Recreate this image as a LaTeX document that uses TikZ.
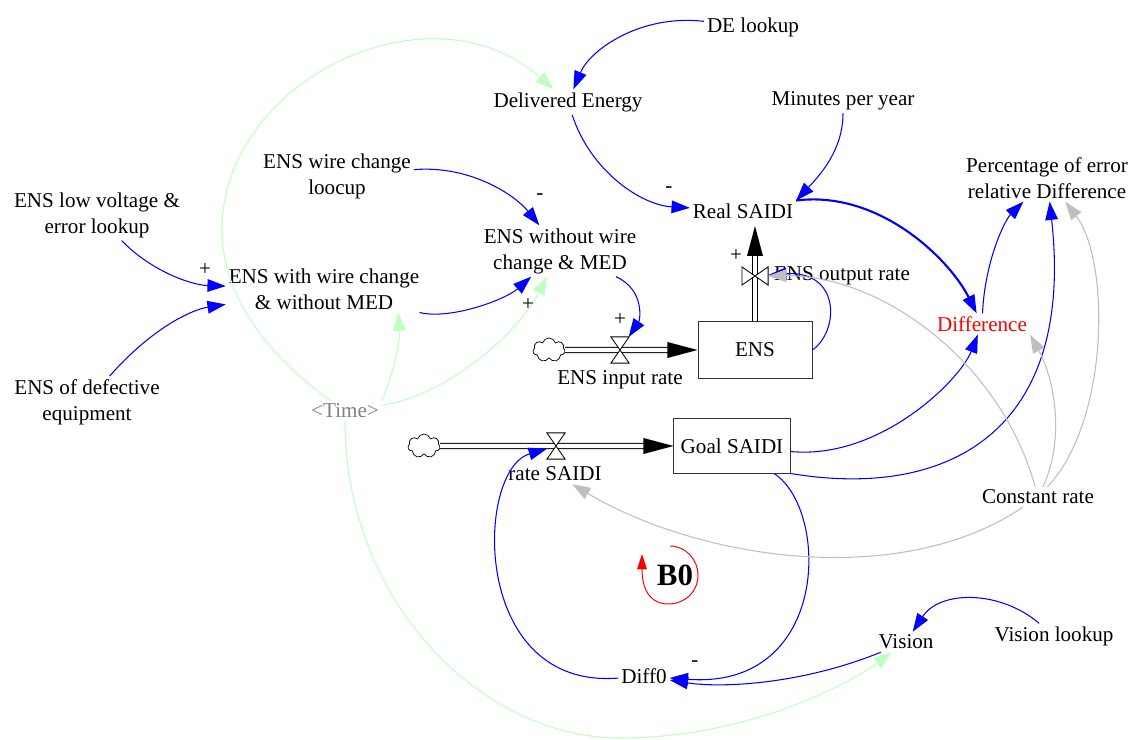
\documentclass[tikz,border=0pt]{standalone}
\usepackage{fontspec}
\setmainfont{Liberation Serif}
\usetikzlibrary{arrows.meta,shapes.symbols}
\definecolor{timegreen}{RGB}{192,255,192}

\begin{document}
\begin{tikzpicture}[x=0.025cm,y=-0.025cm,
    font=\fontsize{15}{18.5}\selectfont,
    var/.style={align=center,inner sep=2pt},
    stock/.style={draw=black!80,line width=0.7pt,minimum width=2.85cm,minimum height=1.4cm},
    cloudy/.style={cloud,cloud puffs=7,cloud ignores aspect,draw,line width=0.5pt,
      minimum width=0.8cm,minimum height=0.6cm,inner sep=0pt},
    hvalve/.style={minimum width=0.44cm,minimum height=0.64cm,inner sep=0pt},
    vvalve/.style={minimum width=0.64cm,minimum height=0.44cm,inner sep=0pt},
    bowtie/.style={draw,fill=white,line width=0.6pt},
    pipe/.style={draw,line width=0.7pt,double=white,double distance=3pt,shorten >=0.72cm},
    link/.style={blue,line width=0.75pt,-{Triangle[length=13pt,width=9pt]}},
    timelink/.style={link,timegreen},
    constlink/.style={link,lightgray}]

  % background, fixes the page size
  \fill[white] (0,0) rectangle (1139,740);
  \useasboundingbox (0,0) rectangle (1139,740);

  % auxiliaries and constants
  \draw
    (753,27) node[var] (delook) {DE lookup}
    (568,102) node[var] (delen) {Delivered Energy}
    (843,101) node[var] (minyr) {Minutes per year}
    (337,176) node[var] (wirelook) {ENS wire change\\loocup}
    (97,215) node[var] (lowvolt) {ENS low voltage \&\\error lookup}
    (743,211) node[var] (realsaidi) {Real SAIDI}
    (1047,178) node[var] (pcterr) {Percentage of error\\relative Difference}
    (560,251) node[var] (nowire) {ENS without wire\\change \& MED}
    (324,289) node[var] (withwire) {ENS with wire change\\\& without MED}
    (982,324) node[var,text=red] (diff) {Difference}
    (87,402) node[var] (defect) {ENS of defective\\equipment}
    (345,411) node[var,text=gray] (time) {\textless Time\textgreater}
    (1038,497) node[var] (constrate) {Constant rate}
    (906,642) node[var] (vision) {Vision}
    (1054,636) node[var] (vislook) {Vision lookup}
    (644,676) node[var] (diff0) {Diff0};

  % stocks, clouds and valves
  \node[stock] (ens) at (755,350) {ENS};
  \node[stock,minimum width=2.9cm,minimum height=1.35cm] (goal) at (732,446) {Goal SAIDI};
  \node[cloudy] (cloud1) at (549,350) {};
  \node[cloudy] (cloud2) at (424,446) {};
  \coordinate (outend) at (755,226);
  \node[hvalve] (vin) at (620,350) {};
  \node[vvalve] (vout) at (755,276) {};
  \node[hvalve] (vsaidi) at (556,446) {};

  % pipes
  \draw[pipe] (cloud1) -- (ens);
  \fill (ens.west) -- ++(-30,-8) -- ++(0,16) -- cycle;
  \draw[pipe] (ens) -- (outend);
  \fill (outend) -- ++(-8,30) -- ++(16,0) -- cycle;
  \draw[pipe] (cloud2) -- (goal);
  \fill (goal.west) -- ++(-30,-8) -- ++(0,16) -- cycle;

  \draw[bowtie] (vin.north west) -- (vin.north east) -- (vin.south west) -- (vin.south east) -- cycle;
  \draw[bowtie] (vout.north west) -- (vout.south west) -- (vout.north east) -- (vout.south east) -- cycle;
  \draw[bowtie] (vsaidi.north west) -- (vsaidi.north east) -- (vsaidi.south west) -- (vsaidi.south east) -- cycle;

  \draw
    (620,380) node[var] (inlbl) {ENS input rate}
    (842,276) node[var] (outlbl) {ENS output rate}
    (555,474) node[var] (ratelbl) {rate SAIDI};

  % blue causal links
  \begin{scope}[link]
    \draw (delook) .. controls (640,14) and (590,50) .. (delen);
    \draw (delen) .. controls (590,170) and (640,205) .. (realsaidi);
    \draw (minyr) .. controls (843,150) and (820,175) .. (realsaidi.north east);
    \draw[line width=1.5pt] (realsaidi.north east) .. controls (880,190) and (950,260) .. (diff);
    \draw (wirelook) .. controls (470,165) and (515,195) .. (nowire);
    \draw (lowvolt) .. controls (150,270) and (190,285) .. (withwire);
    \draw (defect) .. controls (150,330) and (190,310) .. (withwire);
    \draw (withwire) .. controls (450,320) and (505,300) .. (nowire);
    \draw (nowire) .. controls (645,290) and (640,320) .. (vin);
    \draw (ens.east) .. controls (840,330) and (840,270) .. (vout);
    \draw (diff) .. controls (985,260) and (1005,220) .. (pcterr);
    \draw (goal) .. controls (880,460) and (960,380) .. (diff);
    \draw (goal.south east) .. controls (950,500) and (1075,430) .. (pcterr);
    \draw (goal) .. controls (830,510) and (830,690) .. (diff0);
    \draw (diff0) .. controls (470,690) and (475,470) .. (vsaidi);
    \draw (vision) .. controls (800,685) and (720,688) .. (diff0);
    \draw (vislook) .. controls (1000,590) and (940,590) .. (vision);
  \end{scope}

  % links from the constant
  \begin{scope}[constlink]
    \draw (constrate) .. controls (1000,360) and (880,275) .. (vout);
    \draw (constrate) .. controls (1065,440) and (1055,380) .. (diff.south east);
    \draw (constrate) .. controls (1110,420) and (1110,260) .. (pcterr);
    \draw (constrate) .. controls (900,590) and (700,560) .. (ratelbl);
  \end{scope}

  % links from the time shadow variable
  \begin{scope}[timelink]
    \draw (time) .. controls (260,350) and (222,290) .. (222,230)
      .. controls (222,80) and (430,-20) .. (delen);
    \draw (time.north east) .. controls (395,370) and (400,340) .. ([xshift=-0.6cm]withwire.south east);
    \draw (time) .. controls (450,395) and (520,330) .. (nowire);
    \draw (time) .. controls (345,600) and (480,738) .. (620,738)
      .. controls (740,738) and (840,690) .. (vision);
  \end{scope}

  % polarities
  \draw
    (205,270) node (p1) {+}
    (540,197) node (p2) {-}
    (528,305) node (p3) {+}
    (669,190) node (p4) {-}
    (736,256) node (p5) {+}
    (620,320) node (p6) {+}
    (695,664) node (p7) {-};

  % balancing loop marker
  \node[font=\fontsize{22}{26}\selectfont\bfseries] (b0) at (675,575) {B0};
  \draw[red,line width=0.7pt,-{Triangle[length=11pt,width=7pt]}]
    (670,546) .. controls (686,546) and (698,560) .. (698,575)
    .. controls (698,592) and (685,604) .. (668,604)
    .. controls (652,604) and (642,592) .. (642,554);
\end{tikzpicture}
\end{document}
